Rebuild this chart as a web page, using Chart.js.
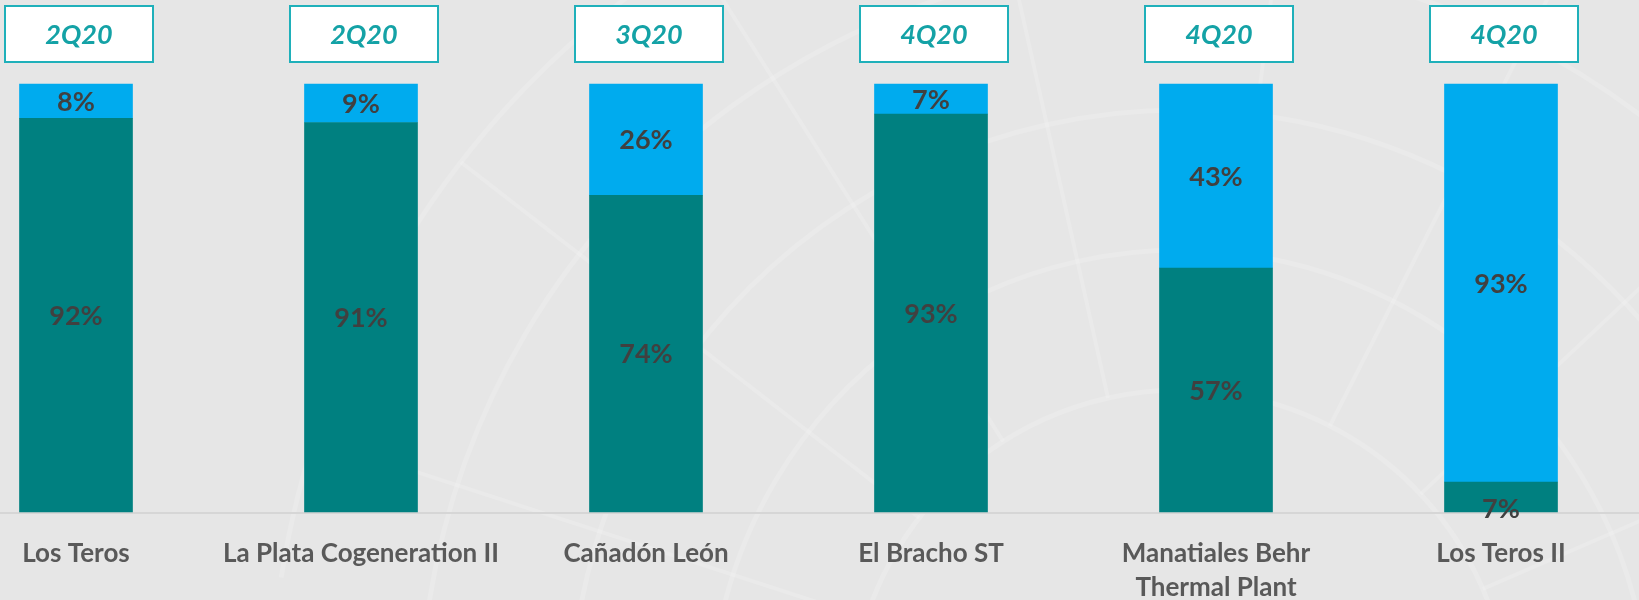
<!DOCTYPE html>
<html>
<head>
<meta charset="utf-8">
<script src="https://cdn.jsdelivr.net/npm/chart.js@4.4.0/dist/chart.umd.min.js"></script>
<style>
  html, body { margin: 0; padding: 0; background: #e6e6e6; }
  #wrap { position: relative; width: 1639px; height: 600px; }
  canvas { display: block; }
</style>
</head>
<body>
<div id="wrap"><canvas id="c" width="1639" height="600"></canvas></div>
<script>
// ---- data ----
const categories = [
  "Los Teros",
  "La Plata Cogeneration II",
  "Cañadón León",
  "El Bracho ST",
  ["Manatiales Behr", "Thermal Plant"],
  "Los Teros II"
];
const quarters = ["2Q20", "2Q20", "3Q20", "4Q20", "4Q20", "4Q20"];
const tealValues = [92, 91, 74, 93, 57, 7];
const blueValues = [8, 9, 26, 7, 43, 93];

const TEAL = "#008080";
const BLUE = "#00ABEE";

// decorative background
const bgPlugin = {
  id: "bg",
  beforeDraw(chart) {
    const ctx = chart.ctx;
    ctx.save();
    ctx.fillStyle = "#e6e6e6";
    ctx.fillRect(0, 0, chart.width, chart.height);
    ctx.strokeStyle = "rgba(255,255,255,0.16)";
    ctx.lineWidth = 5;
    const cx = 1180, cy = 720;
    [330, 470, 610, 760, 910].forEach(r => {
      ctx.beginPath();
      ctx.arc(cx, cy, r, Math.PI * 1.05, Math.PI * 1.95);
      ctx.stroke();
    });
    ctx.lineWidth = 4;
    for (let a = 1.1; a < 1.95; a += 0.11) {
      ctx.beginPath();
      ctx.moveTo(cx + Math.cos(Math.PI * a) * 330, cy + Math.sin(Math.PI * a) * 330);
      ctx.lineTo(cx + Math.cos(Math.PI * a) * 910, cy + Math.sin(Math.PI * a) * 910);
      ctx.stroke();
    }
    ctx.restore();
  }
};

// baseline + quarter boxes + data labels
const overlayPlugin = {
  id: "overlay",
  beforeDatasetsDraw(chart) {
    const ctx = chart.ctx;
    const y0 = chart.scales.y.getPixelForValue(0);
    ctx.save();
    ctx.strokeStyle = "#d6d6d6";
    ctx.lineWidth = 2;
    ctx.beginPath();
    ctx.moveTo(0, y0 + 1);
    ctx.lineTo(chart.width, y0 + 1);
    ctx.stroke();
    ctx.restore();
  },
  afterDatasetsDraw(chart) {
    const ctx = chart.ctx;
    const xs = chart.scales.x;
    ctx.save();
    // quarter boxes
    quarters.forEach((q, i) => {
      const cx = xs.getPixelForValue(i) + 3;
      const w = 148, h = 56, top = 6;
      ctx.fillStyle = "#ffffff";
      ctx.fillRect(cx - w / 2, top, w, h);
      ctx.strokeStyle = "#1FB0BA";
      ctx.lineWidth = 2;
      ctx.strokeRect(cx - w / 2, top, w, h);
      ctx.fillStyle = "#14A2A6";
      ctx.font = "italic bold 27px Lato";
      ctx.textAlign = "center";
      ctx.textBaseline = "middle";
      ctx.fillText(q, cx, top + h / 2 + 1);
    });
    // data labels
    ctx.fillStyle = "#404040";
    ctx.font = "bold 27px Lato";
    ctx.textAlign = "center";
    ctx.textBaseline = "middle";
    chart.data.datasets.forEach((ds, di) => {
      const meta = chart.getDatasetMeta(di);
      meta.data.forEach((bar, i) => {
        const p = bar.getProps(["x", "y", "base"], true);
        let yc = (p.y + p.base) / 2;
        // very short bottom segments: label sits on the base line
        if (di === 0 && Math.abs(p.base - p.y) < 32) yc = p.base - 4;
        ctx.fillText(ds.data[i] + "%", p.x, yc + 1);
      });
    });
    ctx.restore();
  }
};

new Chart(document.getElementById("c"), {
  type: "bar",
  data: {
    labels: categories,
    datasets: [
      { label: "A", data: tealValues, backgroundColor: TEAL, clip: false, barThickness: 113 },
      { label: "B", data: blueValues, backgroundColor: BLUE, clip: false, barThickness: 113 }
    ]
  },
  options: {
    responsive: false,
    animation: false,
    devicePixelRatio: 1,
    layout: { padding: { top: 84, left: 76, right: 138, bottom: 0 } },
    plugins: { legend: { display: false }, tooltip: { enabled: false } },
    scales: {
      x: {
        stacked: true,
        offset: false,
        grid: { display: false, drawTicks: false },
        border: { display: false },
        afterFit(scale) { scale.height = 88; scale.paddingLeft = 0; scale.paddingRight = 0; },
        ticks: {
          autoSkip: false,
          maxRotation: 0,
          padding: 25,
          color: "#595959",
          font: { family: "Lato", weight: "bold", size: 26, lineHeight: 1.3 }
        }
      },
      y: {
        stacked: true,
        display: false,
        min: 0,
        max: 100
      }
    }
  },
  plugins: [bgPlugin, overlayPlugin]
});
</script>
</body>
</html>
